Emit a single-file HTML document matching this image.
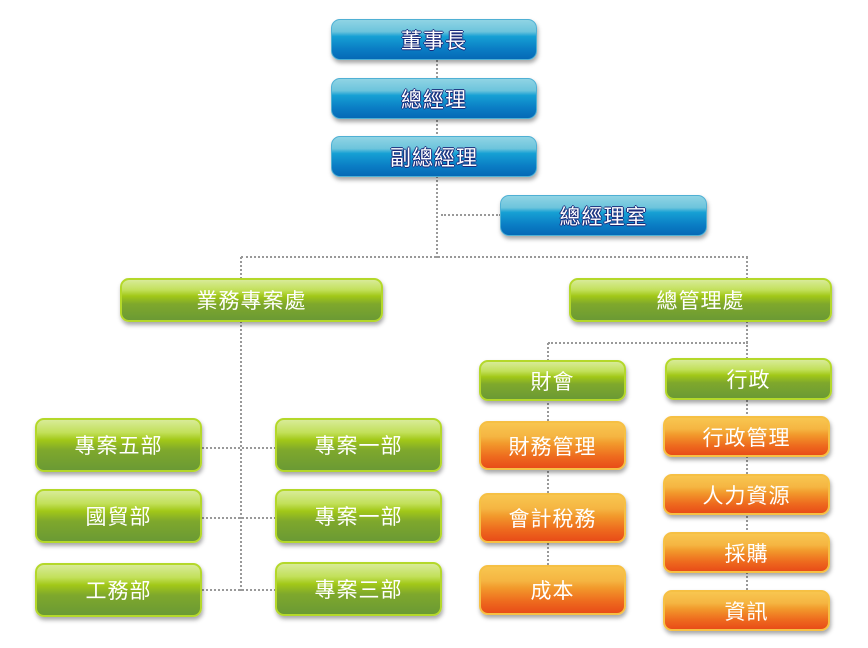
<!DOCTYPE html>
<html><head><meta charset="utf-8"><style>
body{margin:0;width:868px;height:648px;background:#fff;position:relative;overflow:hidden;font-family:"Liberation Sans","Noto Sans CJK TC",sans-serif;}
.b{position:absolute;border-radius:9px;color:#fff;font-size:21px;display:flex;align-items:center;justify-content:center;letter-spacing:1px;box-shadow:1px 3px 4px rgba(0,0,0,0.35);box-sizing:border-box;}
.bl{background:linear-gradient(#8fd4e4 0%,#6cc4dc 30%,#16a0d4 42%,#0a7cc4 75%,#0569b6 100%);border:1px solid #4fb0d4;text-shadow:-1px 0 0 #1a2a7a,1px 0 0 #1a2a7a,0 1px 0 #1a2a7a,0 -1px 0 #1a2a7a;}
.g{background:linear-gradient(#d8eb98 0%,#c2e05a 25%,#a2c818 40%,#7fa82c 60%,#6b9a34 100%);border:2px solid #b4d82a;}
.o{background:linear-gradient(#f8c650 0%,#f5b542 30%,#f29a2c 45%,#ee6a1e 75%,#e84c18 100%);border:2px solid #f6c044;}
.v{position:absolute;border-left:2px dotted #999;width:0}
.h{position:absolute;border-top:2px dotted #999;height:0}
</style></head><body>
<div class="v" style="left:436px;top:60px;height:198px"></div>
<div class="h" style="left:441px;top:214px;width:60px"></div>
<div class="h" style="left:241px;top:256px;width:507px"></div>
<div class="v" style="left:240px;top:257px;height:334px"></div>
<div class="v" style="left:746px;top:257px;height:102px"></div>
<div class="h" style="left:548px;top:342px;width:200px"></div>
<div class="v" style="left:547px;top:343px;height:250px"></div>
<div class="v" style="left:746px;top:400px;height:210px"></div>
<div class="h" style="left:202px;top:447px;width:74px"></div>
<div class="h" style="left:202px;top:517px;width:74px"></div>
<div class="h" style="left:202px;top:589px;width:74px"></div>

<div class="b bl" style="left:331px;top:19px;width:206px;height:41px">董事長</div>
<div class="b bl" style="left:331px;top:78px;width:206px;height:41px">總經理</div>
<div class="b bl" style="left:331px;top:136px;width:206px;height:41px">副總經理</div>
<div class="b bl" style="left:500px;top:195px;width:207px;height:41px">總經理室</div>

<div class="b g" style="left:120px;top:278px;width:263px;height:44px">業務專案處</div>
<div class="b g" style="left:569px;top:278px;width:263px;height:44px">總管理處</div>
<div class="b g" style="left:479px;top:360px;width:147px;height:41px">財會</div>
<div class="b g" style="left:665px;top:358px;width:167px;height:42px">行政</div>

<div class="b g" style="left:35px;top:418px;width:167px;height:54px">專案五部</div>
<div class="b g" style="left:35px;top:489px;width:167px;height:54px">國貿部</div>
<div class="b g" style="left:35px;top:563px;width:167px;height:54px">工務部</div>
<div class="b g" style="left:275px;top:418px;width:167px;height:54px">專案一部</div>
<div class="b g" style="left:275px;top:489px;width:167px;height:54px">專案一部</div>
<div class="b g" style="left:275px;top:562px;width:167px;height:54px">專案三部</div>

<div class="b o" style="left:479px;top:421px;width:147px;height:49px">財務管理</div>
<div class="b o" style="left:479px;top:493px;width:147px;height:50px">會計稅務</div>
<div class="b o" style="left:479px;top:565px;width:147px;height:50px">成本</div>

<div class="b o" style="left:663px;top:416px;width:167px;height:41px">行政管理</div>
<div class="b o" style="left:663px;top:474px;width:167px;height:41px">人力資源</div>
<div class="b o" style="left:663px;top:532px;width:167px;height:41px">採購</div>
<div class="b o" style="left:663px;top:590px;width:167px;height:41px">資訊</div>
</body></html>
